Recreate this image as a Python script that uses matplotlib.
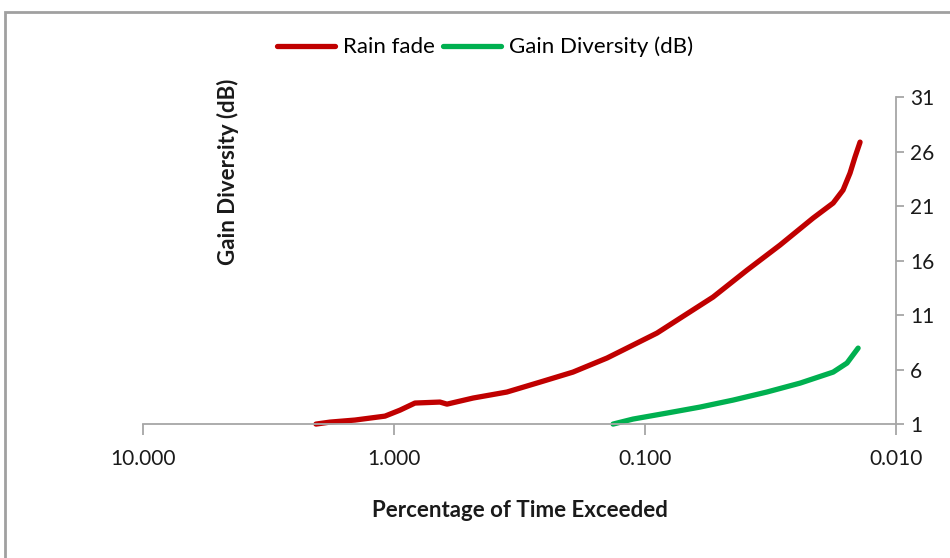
import numpy as np
import matplotlib.pyplot as plt
from matplotlib.patches import Rectangle
from matplotlib.ticker import FixedLocator, FuncFormatter

plt.rcParams['font.family'] = ['Lato', 'DejaVu Sans']

# percentage of time exceeded vs dB
rain_pct = [2.046, 1.80, 1.43, 1.086, 0.946, 0.825, 0.656, 0.615, 0.484, 0.355,
            0.262, 0.1936, 0.1417, 0.1224, 0.0896, 0.0674, 0.0536, 0.0392,
            0.0290, 0.0214, 0.0178, 0.01626, 0.01525, 0.01457, 0.01391]
rain_db = [1.0, 1.18, 1.37, 1.73, 2.28, 2.93, 3.02, 2.83, 3.39, 3.94,
           4.85, 5.77, 7.06, 7.79, 9.35, 11.18, 12.65, 15.13,
           17.42, 19.90, 21.28, 22.47, 24.03, 25.50, 26.87]

gain_pct = [0.1341, 0.1116, 0.0818, 0.0604, 0.0446, 0.0327, 0.0241, 0.0178,
            0.01568, 0.01416]
gain_db = [1.0, 1.46, 2.01, 2.56, 3.20, 3.94, 4.76, 5.77, 6.60, 7.97]

x_ticks = [10, 1, 0.1, 0.01]
y_ticks = [1, 6, 11, 16, 21, 26, 31]

fig = plt.figure(figsize=(9.5, 5.58), dpi=100)
ax = fig.add_axes([0.1505, 0.240, 0.7927, 0.586])

red = '#C00000'
green = '#00B050'
ax.plot(rain_pct, rain_db, color=red, lw=3.8, label='Rain fade', clip_on=False,
        solid_capstyle='round')
ax.plot(gain_pct, gain_db, color=green, lw=3.8, label='Gain Diversity (dB)',
        clip_on=False, solid_capstyle='round')

ax.set_xscale('log')
ax.set_xlim(10, 0.01)
ax.set_ylim(1, 31)
ax.xaxis.set_major_locator(FixedLocator(x_ticks))
ax.xaxis.set_minor_locator(FixedLocator([]))
ax.xaxis.set_major_formatter(FuncFormatter(lambda v, p: f'{v:.3f}'))
ax.set_yticks(y_ticks)

ax.yaxis.tick_right()
for s in ['top', 'left']:
    ax.spines[s].set_visible(False)
for s in ['right', 'bottom']:
    ax.spines[s].set_color('#A6A6A6')
    ax.spines[s].set_linewidth(1.3)
ax.tick_params(axis='both', color='#A6A6A6', width=1.3, labelsize=15,
               labelcolor='#1a1a1a')
ax.tick_params(axis='x', length=8, pad=10)
ax.tick_params(axis='y', length=6, pad=4)

ax.set_xlabel('Percentage of Time Exceeded', fontsize=16, fontweight='bold',
              labelpad=22, color='#1a1a1a')
fig.text(0.240, 0.692, 'Gain Diversity (dB)', rotation=90, fontsize=16,
         fontweight='bold', ha='center', va='center', color='#1a1a1a')

ax.legend(loc='center', bbox_to_anchor=(485 / 950, 1 - 47 / 558),
          bbox_transform=fig.transFigure, ncol=2, frameon=False, fontsize=16,
          handlelength=2.6, handletextpad=0.35, columnspacing=0.4)

fig.patches.append(Rectangle((5 / 950, -0.2), 1.2, 1 - 12 / 558 + 0.2,
                             transform=fig.transFigure, fill=False,
                             edgecolor='#A0A0A0', lw=2))

fig.savefig('out.png', dpi=100)
